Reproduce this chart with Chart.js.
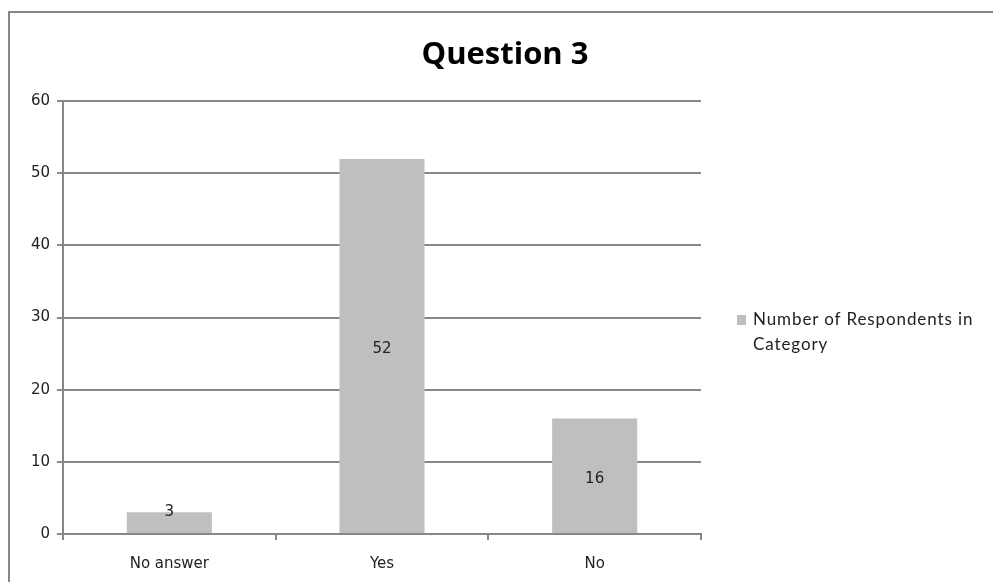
<!DOCTYPE html>
<html>
<head>
<meta charset="utf-8">
<title>Question 3</title>
<script src="https://cdn.jsdelivr.net/npm/chart.js@4.4.1/dist/chart.umd.min.js"></script>
<style>
  html, body { margin: 0; padding: 0; background: #fff; }
  #wrap { position: relative; width: 993px; height: 582px; overflow: hidden; }
  #frame {
    position: absolute; left: 8px; top: 11px; width: 1100px; height: 700px;
    border-left: 2px solid #878787; border-top: 2px solid #878787;
  }
  #chart { position: absolute; left: 0; top: 0; }
  #legend {
    position: absolute; left: 737px; top: 306px;
    font-family: Lato, sans-serif; font-size: 17px; line-height: 25px;
    letter-spacing: 0.9px; color: #222;
  }
  #legend .box {
    position: absolute; left: 0; top: 9px; width: 9px; height: 10px; background: #bfbfbf;
  }
  #legend .txt { margin-left: 16px; }
</style>
</head>
<body>
<div id="wrap">
  <div id="frame"></div>
  <canvas id="chart" width="993" height="582"></canvas>
  <div id="legend"><span class="box"></span><div class="txt" id="legendText"></div></div>
</div>
<script>
'use strict';

const categories = ['No answer', 'Yes', 'No'];
const respondents = [3, 52, 16];
const seriesName = 'Number of Respondents in Category';
const yTicks = [0, 10, 20, 30, 40, 50, 60];

const lineGray = '#878787';
const barGray = '#bfbfbf';
const tickFont = { family: 'DejaVu Sans', size: 15 };

document.getElementById('legendText').innerHTML =
  'Number of Respondents in<br>Category';

// value labels sit in the middle of each bar, lifted for short bars
const barLabels = {
  id: 'barLabels',
  afterDatasetsDraw(chart) {
    const ctx = chart.ctx;
    const meta = chart.getDatasetMeta(0);
    ctx.save();
    ctx.font = '15px "DejaVu Sans"';
    ctx.fillStyle = '#222';
    ctx.textAlign = 'center';
    ctx.textBaseline = 'middle';
    meta.data.forEach(function (bar, i) {
      const mid = (bar.y + bar.base) / 2;
      const y = Math.min(mid, bar.base - 24) + 3;
      ctx.fillText(String(respondents[i]), bar.x, y);
    });
    ctx.restore();
  }
};

new Chart(document.getElementById('chart'), {
  type: 'bar',
  data: {
    labels: categories,
    datasets: [{
      label: seriesName,
      data: respondents,
      backgroundColor: barGray,
      borderWidth: 0,
      barPercentage: 0.4,
      categoryPercentage: 1
    }]
  },
  options: {
    responsive: false,
    devicePixelRatio: 1,
    animation: false,
    layout: { padding: { left: 17, right: 0, top: 37, bottom: 0 } },
    plugins: {
      legend: { display: false },
      tooltip: { enabled: false },
      title: {
        display: true,
        text: 'Question 3',
        color: '#000',
        font: { family: 'Open Sans', size: 31, weight: 'bold' },
        padding: { top: 0, bottom: 27 }
      }
    },
    scales: {
      x: {
        offset: true,
        grid: {
          offset: true,
          drawOnChartArea: false,
          drawTicks: true,
          tickLength: 6,
          color: lineGray,
          lineWidth: 2
        },
        border: { color: lineGray, width: 2 },
        ticks: { color: '#222', font: tickFont, padding: 15, maxRotation: 0 },
        afterFit: function (s) { s.height = 48; }
      },
      y: {
        min: 0,
        max: 60,
        afterBuildTicks: function (s) {
          s.ticks = yTicks.map(function (v) { return { value: v }; });
        },
        grid: { color: lineGray, lineWidth: 2, tickLength: 6 },
        border: { color: lineGray, width: 2 },
        ticks: { color: '#222', font: tickFont, padding: 7 },
        afterFit: function (s) { s.width = 46; }
      },
      side: {
        type: 'linear',
        position: 'right',
        display: true,
        grid: { display: false },
        border: { display: false },
        ticks: { display: false },
        afterFit: function (s) { s.width = 292; }
      }
    }
  },
  plugins: [barLabels]
});
</script>
</body>
</html>
